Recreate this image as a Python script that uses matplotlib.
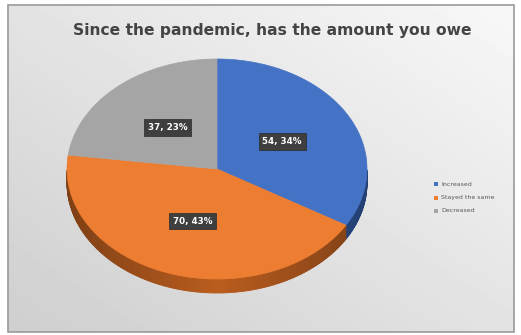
import numpy as np
import matplotlib
matplotlib.use('Agg')
from matplotlib import pyplot as plt
from matplotlib.patches import Polygon, Rectangle
from matplotlib.colors import to_rgb

title = 'Since the pandemic, has the amount you owe'
categories = ['Increased', 'Stayed the same', 'Decreased']
counts = [54, 70, 37]
colors = ['#4472C4', '#ED7D31', '#A5A5A5']
side_colors = ['#2F5597', '#A9541B', '#7B7B7B']

W, H = 521, 335
fig = plt.figure(figsize=(W / 100, H / 100), dpi=100)
ax = fig.add_axes([0, 0, 1, 1])
ax.set_xlim(0, W)
ax.set_ylim(H, 0)
ax.axis('off')

# chart area: soft gray gradient, lighter toward the top right
yy, xx = np.mgrid[0:100, 0:160]
g = 0.81 + 0.08 * (xx / 159) + 0.08 * (1 - yy / 99)
ax.imshow(g, extent=(8, 514, 332, 5), cmap='gray', vmin=0, vmax=1,
          aspect='auto', zorder=0, interpolation='bicubic')
ax.add_patch(Rectangle((8, 5), 506, 327, fill=False, ec='#9a9a9a', lw=1.2, zorder=1))

ax.text(272, 30, title, ha='center', va='center', fontsize=11.2,
        fontweight='bold', color='#444444', zorder=5)

# 3D pie geometry
cx, cy, rx, ry, depth = 217, 169, 150, 110, 14
total = sum(counts)
fracs = [c / total for c in counts]
starts = 90 - 360 * np.concatenate([[0], np.cumsum(fracs)[:-1]])
ends = starts - 360 * np.array(fracs)


def pt(t):
    r = np.radians(t)
    return cx + rx * np.cos(r), cy - ry * np.sin(r)


def shade(c, k):
    return tuple(min(1, v * k) for v in to_rgb(c))


# side walls (front half only)
for a0, a1, sc in zip(starts, ends, side_colors):
    ts = np.linspace(a0, a1, 200)
    ts = ts[np.sin(np.radians(ts)) <= 0.001]
    if len(ts) < 2:
        continue
    for t0, t1 in zip(ts[:-1], ts[1:]):
        x0, y0 = pt(t0)
        x1, y1 = pt(t1)
        k = 0.75 + 0.35 * (1 - abs(np.cos(np.radians((t0 + t1) / 2))))
        ax.add_patch(Polygon([(x0, y0), (x1, y1), (x1, y1 + depth), (x0, y0 + depth)],
                             closed=True, fc=shade(sc, k), ec=shade(sc, k), lw=0.6, zorder=2))

# top faces
for a0, a1, c in zip(starts, ends, colors):
    ts = np.linspace(a0, a1, 200)
    verts = [(cx, cy)] + [pt(t) for t in ts]
    ax.add_patch(Polygon(verts, closed=True, fc=c, ec=c, lw=0.5, zorder=3))

# data labels
for a0, a1, n, f in zip(starts, ends, counts, fracs):
    mid = np.radians((a0 + a1) / 2)
    lx = cx + 0.5 * rx * np.cos(mid)
    ly = cy - 0.5 * ry * np.sin(mid)
    ax.text(lx, ly, f'{n}, {round(f * 100)}%', ha='center', va='center',
            fontsize=6.3, fontweight='bold', color='white', zorder=6,
            bbox=dict(boxstyle='square,pad=0.45', fc='#3f3f3f', ec='#2a2a2a', lw=0.5))

# legend
for i, (name, c) in enumerate(zip(categories, colors)):
    y = 184 + i * 13.5
    ax.add_patch(Rectangle((434, y - 2), 4, 4, fc=c, ec='none', zorder=5))
    ax.text(441, y, name, ha='left', va='center', fontsize=4.5, color='#595959', zorder=5)

fig.savefig('out.png', dpi=100)
